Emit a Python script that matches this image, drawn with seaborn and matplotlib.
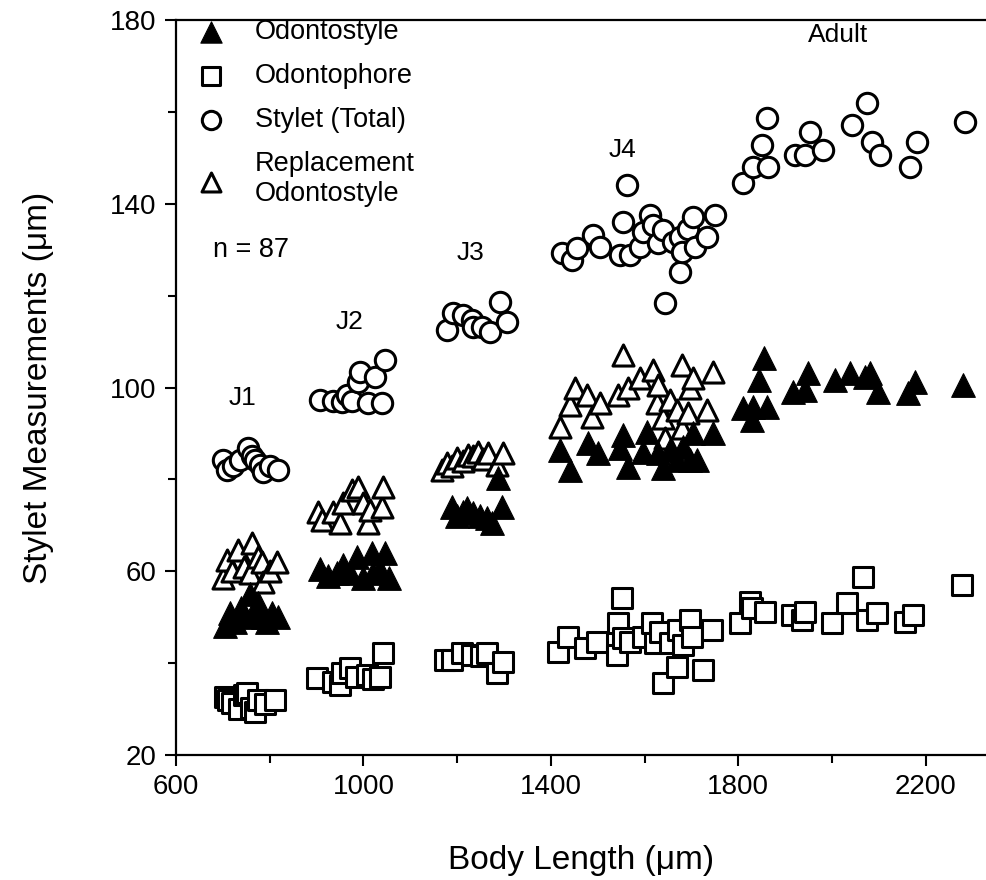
import matplotlib
matplotlib.use('Agg')
import matplotlib.pyplot as plt
import seaborn as sns
import numpy as np
import pandas as pd
from matplotlib.ticker import MultipleLocator

############################################################################

# Odontostyle (filled triangles)
odo_x = [705, 715, 725, 738, 748, 758, 768, 775, 785, 795, 805, 818,
         907, 925, 943, 956, 971, 986, 1000, 1018, 1020, 1035, 1046, 1055,
         1189, 1200, 1212, 1221, 1234, 1248, 1263, 1275, 1287, 1296,
         1420, 1441, 1479, 1501, 1548, 1554, 1565, 1597, 1605, 1629, 1640, 1654,
         1669, 1682, 1697, 1704, 1712, 1746,
         1810, 1829, 1832, 1845, 1855, 1862, 1917, 1943, 1949, 2007, 2039, 2071,
         2081, 2098, 2162, 2177, 2280]
odo_y = [48, 51, 49, 52, 50, 55, 51, 53, 50, 49, 51, 50,
         60.5, 59, 59.6, 61.4, 59.6, 63, 58.5, 64, 59.6, 60.3, 64, 58.5,
         74, 72, 73, 73.8, 72.7, 72, 71.6, 70.5, 80.3, 74,
         86.4, 82, 87.9, 85.7, 86.8, 89.7, 82.7, 86, 90.3, 85.7, 82.5, 86.4,
         84.2, 87, 84.2, 90.1, 84.2, 90.1,
         95.5, 92.9, 95.8, 101.6, 106.4, 95.8, 99, 99.4, 103.2, 101.6, 103.2, 102.3,
         103.2, 99, 98.8, 101.2, 100.5]

# Replacement odontostyle (open triangles)
rep_x = [700, 709, 720, 732, 745, 758, 762, 775, 783, 786, 800, 815,
         903, 911, 935, 950, 956, 975, 988, 999, 1010, 1014, 1040, 1042,
         1168, 1178, 1190, 1200, 1212, 1223, 1235, 1245, 1256, 1266, 1285, 1298,
         1420, 1441, 1452, 1477, 1488, 1505, 1543, 1554, 1565, 1590, 1618, 1627,
         1629, 1640, 1644, 1654, 1669, 1680, 1680, 1693, 1697, 1704, 1733, 1746]
rep_y = [58.5, 62.4, 60, 64.6, 61, 59.6, 66.1, 63, 62, 57.7, 60, 62,
         72.9, 71.2, 72.9, 70.5, 74.9, 77.7, 78.3, 74.9, 70.5, 73.3, 74, 78.3,
         82, 83.6, 83, 84.6, 84, 85.3, 85, 86, 84.5, 85.7, 83.1, 85.7,
         91.4, 96.2, 99.9, 98.4, 93.6, 96.6, 98.4, 107.1, 99.9, 102, 103.8, 96.6,
         100.5, 93.4, 89, 97.3, 95.1, 104.9, 91.2, 94.4, 99.9, 102, 95.1, 103.4]

# Odontophore (open squares)
oph_x = [705, 712, 719, 735, 745, 752, 760, 769, 775, 790, 811,
         901, 935, 950, 954, 971, 985, 1008, 1020, 1035, 1042,
         1174, 1189, 1210, 1232, 1250, 1264, 1285, 1298,
         1415, 1437, 1473, 1499, 1541, 1543, 1552, 1554, 1569, 1597, 1616, 1622,
         1633, 1640, 1654, 1669, 1671, 1682, 1697, 1701, 1725, 1744,
         1804, 1825, 1829, 1857, 1915, 1936, 1943, 2000, 2032, 2066, 2075, 2096,
         2156, 2173, 2278]
oph_y = [32.6, 32, 31.3, 30, 33, 33.5, 30.2, 29.4, 32, 31, 32,
         36.8, 36, 35.2, 37.8, 38.9, 37, 37.4, 36.5, 37, 42.2,
         40.7, 40.7, 42.2, 41.8, 41.5, 42.2, 37.8, 40.2,
         42.4, 45.7, 43.3, 44.6, 41.8, 48.7, 54.2, 45.5, 44.6, 45.7, 48.7, 44.4,
         46.8, 35.7, 44.4, 39.2, 47.2, 44, 49.4, 45.7, 38.5, 47.2,
         48.7, 53.3, 52, 51.1, 50.5, 49.4, 51.1, 48.7, 53.1, 58.7, 49.4, 50.9,
         49, 50.5, 57]

# Stylet total (open circles)
sty_x = [700, 709, 722, 737, 754, 762, 769, 779, 786, 800, 818,
         907, 935, 954, 965, 975, 988, 993, 1010, 1025, 1040, 1046,
         1178, 1191, 1213, 1232, 1234, 1253, 1270, 1292, 1306,
         1424, 1445, 1456, 1490, 1505, 1548, 1554, 1563, 1569, 1590, 1597, 1612,
         1618, 1629, 1640, 1644, 1661, 1676, 1676, 1680, 1693, 1704, 1708, 1733, 1750,
         1810, 1832, 1851, 1862, 1864, 1921, 1943, 1953, 1981, 2043, 2075, 2086,
         2103, 2167, 2181, 2284]
sty_y = [84.2, 82, 83, 84.2, 86.8, 85, 84.2, 83.1, 81.6, 83, 82,
         97.3, 97, 96.8, 98.4, 97, 101.2, 103.4, 96.6, 102.3, 96.6, 106,
         112.5, 116.2, 115.8, 114.7, 113.2, 113.2, 112.1, 118.6, 114.3,
         129.3, 127.8, 130.4, 133.3, 130.6, 128.8, 136, 144, 128.8, 130.6, 133.9, 137.5,
         135.4, 131.4, 134.3, 118.4, 131.7, 132.8, 125.1, 129.5, 134.6, 137.1, 130.6, 132.8, 137.5,
         144.5, 148, 152.8, 158.7, 148, 150.6, 150.6, 155.6, 151.7, 157.1, 162, 153.5,
         150.6, 148, 153.5, 157.8]

stage_names = ['J1', 'J2', 'J3', 'J4', 'Adult']
stage_x = [743, 971, 1228, 1552, 2013]
stage_y = [97.7, 114.3, 129.3, 151.7, 176.7]

x_ticks = [600, 1000, 1400, 1800, 2200]
y_ticks = [20, 60, 100, 140, 180]

### Plot
############################################################################

sns.set_style('ticks')
plt.rcParams['font.family'] = ['Liberation Sans', 'DejaVu Sans']
plt.rcParams['text.color'] = 'black'
plt.rcParams['axes.labelcolor'] = 'black'
plt.rcParams['xtick.color'] = 'black'
plt.rcParams['ytick.color'] = 'black'
plt.rcParams['axes.edgecolor'] = 'black'

fig = plt.figure(figsize=(9.87, 8.8), dpi=100)
ax = fig.add_axes([176/987, 1 - 755/880, 811/987, 735/880])

lw = 2.2
sns.scatterplot(x=rep_x, y=rep_y, marker='^', s=230, facecolor='white',
                edgecolor='black', linewidth=lw, ax=ax, zorder=2,
                label='Replacement\nOdontostyle')
sns.scatterplot(x=odo_x, y=odo_y, marker='^', s=290, color='black',
                edgecolor='black', linewidth=0.8, ax=ax, zorder=3,
                label='Odontostyle')
sns.scatterplot(x=oph_x, y=oph_y, marker='s', s=200, facecolor='white',
                edgecolor='black', linewidth=lw, ax=ax, zorder=3,
                label='Odontophore')
sns.scatterplot(x=sty_x, y=sty_y, marker='o', s=215, facecolor='white',
                edgecolor='black', linewidth=lw, ax=ax, zorder=3,
                label='Stylet (Total)')

for name, sx, sy in zip(stage_names, stage_x, stage_y):
    ax.text(sx, sy, name, ha='center', va='center', fontsize=19)

ax.set_xlim(600, 600 + 811/0.4685)
ax.set_ylim(20, 180)
ax.set_xticks(x_ticks)
ax.set_yticks(y_ticks)
ax.xaxis.set_minor_locator(MultipleLocator(200))
ax.yaxis.set_minor_locator(MultipleLocator(20))
ax.tick_params(which='both', direction='out', width=1.5, labelsize=20)
ax.tick_params(which='major', length=8, pad=6)
ax.tick_params(which='minor', length=6)
for side in ['left', 'bottom', 'top']:
    ax.spines[side].set_linewidth(1.6)
ax.spines['right'].set_visible(False)

ax.set_xlabel('Body Length (\u03bcm)', fontsize=24, labelpad=32)
ax.set_ylabel('Stylet Measurements (\u03bcm)', fontsize=24, labelpad=40)

# legend in the order of the original
h, l = ax.get_legend_handles_labels()
order = [1, 2, 3, 0]
leg = ax.legend([h[i] for i in order], [l[i] for i in order],
                loc='upper left', bbox_to_anchor=(0.0, 1.027), frameon=False,
                fontsize=19.5, handletextpad=1.0, labelspacing=0.66,
                borderaxespad=0.3, handlelength=1.2, markerscale=0.9)
ax.text(0.046, 0.687, 'n = 87', transform=ax.transAxes, fontsize=19.5,
        ha='left', va='center')

fig.savefig('out.png', dpi=100)
